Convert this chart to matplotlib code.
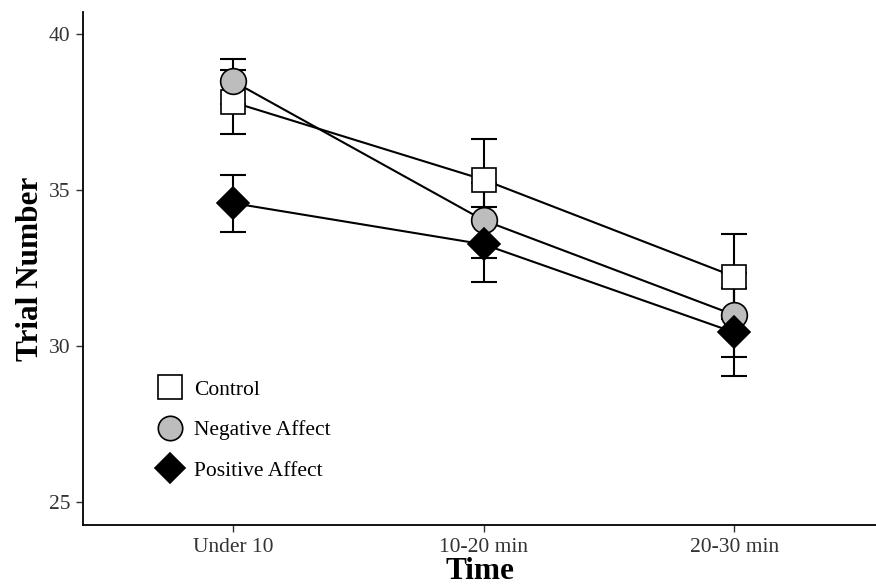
import matplotlib.pyplot as plt
import numpy as np

plt.rcParams['font.family'] = ['Liberation Serif', 'DejaVu Serif']

times = ['Under 10', '10-20 min', '20-30 min']

control = [37.8, 35.32, 32.22]
control_err = [1.03, 1.3, 1.36]
negative = [38.47, 34.02, 30.99]
negative_err = [0.73, 1.2, 1.35]
positive = [34.57, 33.25, 30.43]
positive_err = [0.91, 1.2, 1.41]

x = np.arange(1, len(times) + 1)

fig = plt.figure(figsize=(8.76, 5.88), dpi=100)
ax = fig.add_axes([0.0947, 0.107, 0.9053, 0.873])

styles = [
    ('Control', control, control_err, 's', 'white', 17.5),
    ('Negative Affect', negative, negative_err, 'o', '#bdbdbd', 18.5),
    ('Positive Affect', positive, positive_err, 'D', 'black', 16),
]

# error bars and connecting lines first, then markers on top
for label, vals, err, mk, fc, ms in styles:
    ax.errorbar(x, vals, yerr=err, color='black', lw=1.5, capsize=9.5,
                capthick=1.5, elinewidth=1.5, zorder=2)
for label, vals, err, mk, fc, ms in styles:
    ax.plot(x, vals, ls='none', marker=mk, markersize=ms, markerfacecolor=fc,
            markeredgecolor='black', markeredgewidth=1.2, label=label, zorder=3)

ax.set_xlim(0.4, 3.566)
ax.set_ylim(24.26, 40.7)
ax.set_xticks(x)
ax.set_xticklabels(times)
ax.set_yticks([25, 30, 35, 40])
ax.tick_params(labelsize=15.5, length=5, width=1, color='#333333',
               labelcolor='#333333', pad=4)
for s in ['top', 'right']:
    ax.spines[s].set_visible(False)
for s in ['left', 'bottom']:
    ax.spines[s].set_linewidth(1.3)

ax.set_xlabel('Time', fontsize=22.5, fontweight='bold', labelpad=0)
ax.set_ylabel('Trial Number', fontsize=22.5, fontweight='bold', labelpad=3)

ax.legend(loc='lower left', bbox_to_anchor=(0.069, 0.049), frameon=False,
          fontsize=15.5, handletextpad=0.53, labelspacing=0.95, handlelength=1.2,
          markerscale=0.95)

fig.savefig('out.png', dpi=100)
